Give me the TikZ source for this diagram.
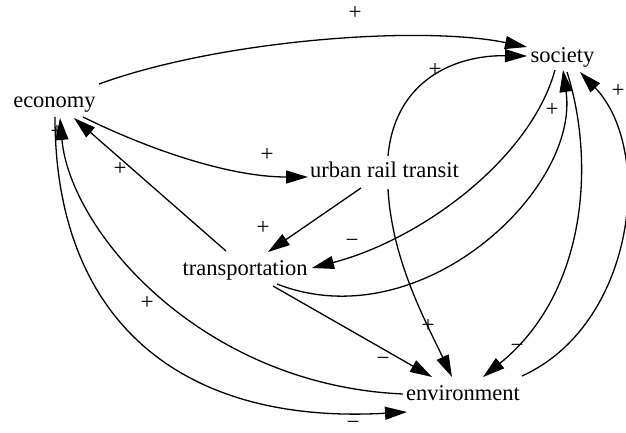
\documentclass[tikz,border=0pt]{standalone}
\usepackage{fontspec}
\setmainfont{Liberation Serif}
\usetikzlibrary{arrows.meta,calc}
\begin{document}
\begin{tikzpicture}[x=1pt,y=-1pt,
  lbl/.style={inner sep=0pt,anchor=base,font=\fontsize{22.5}{27}\selectfont},
  sgn/.style={inner sep=0pt,anchor=base,font=\fontsize{23}{27}\selectfont},
  edge/.style={line width=1.3pt,-{Triangle[length=22pt,width=13pt]}},
  plain/.style={line width=1.3pt}]
\useasboundingbox (0,0) rectangle (626,433);
\node[lbl] (eco) at (54.5,108) {economy};
\node[lbl] (soc) at (562.5,63) {society};
\node[lbl] (urt) at (384.5,177) {urban rail transit};
\node[lbl] (tra) at (245,275) {transportation};
\node[lbl] (env) at (463,400) {environment};
% edges
\draw[edge] ($(eco.base)+(44.5,-24)$) .. controls +(121,-44) and +(-107,-22) .. ($(soc.base)+(-35.5,-16)$);
\draw[edge] ($(eco.base)+(28.5,9)$) .. controls +(67,33) and +(-78,0) .. ($(urt.base)+(-76.5,0)$);
\draw[edge] ($(tra.base)+(-19,-24)$) -- ($(eco.base)+(19.5,10)$);
\draw[edge] ($(eco.base)+(0.5,9)$) .. controls +(0,203) and +(-227,13) .. ($(env.base)+(-56,12)$);
\draw[edge] ($(env.base)+(-60,-6)$) .. controls +(-203,-9) and +(10,112) .. ($(eco.base)+(5.5,10)$);
\draw[edge] ($(urt.base)+(3.5,-21)$) .. controls +(7,-76) and +(-72,-1) .. ($(soc.base)+(-35.5,-7)$);
\draw[edge] ($(soc.base)+(-7.5,7)$) .. controls +(-25,90) and +(108,-28) .. ($(tra.base)+(67,-7)$);
\draw[edge] ($(tra.base)+(32,9)$) .. controls +(143,56) and +(17,120) .. ($(soc.base)+(0.5,7)$);
\draw[edge] ($(soc.base)+(4.5,9)$) .. controls +(28,88) and +(105,-85) .. ($(env.base)+(20,-23)$);
\draw[edge] ($(env.base)+(59,-24)$) .. controls +(113,-51) and +(75,78) .. ($(soc.base)+(17.5,9)$);
\draw[edge] ($(urt.base)+(3.5,12)$) .. controls +(4,71) and +(-27,-57) .. ($(env.base)+(-11,-23)$);
\draw[edge] ($(urt.base)+(-23.5,11)$) -- ($(tra.base)+(23,-23)$);
\draw[edge] ($(tra.base)+(28,11)$) -- ($(env.base)+(-31,-23)$);
% labels
\node[sgn] (l1) at (355,19.6) {+};
\node[sgn] (l2) at (267,161.6) {+};
\node[sgn] (l3) at (120,175.6) {+};
\node[sgn] (l4) at (57,138.6) {+};
\node[sgn] (l5) at (147,309.6) {+};
\node[sgn] (l6) at (353,429) {−};
\node[sgn] (l7) at (435,76.6) {+};
\node[sgn] (l8) at (352,247.6) {−};
\node[sgn] (l9) at (552,116.6) {+};
\node[sgn] (l10) at (517,352.6) {−};
\node[sgn] (l11) at (618,97.6) {+};
\node[sgn] (l12) at (428,332.6) {+};
\node[sgn] (l13) at (263,234.6) {+};
\node[sgn] (l14) at (383,365.6) {−};
\end{tikzpicture}
\end{document}
